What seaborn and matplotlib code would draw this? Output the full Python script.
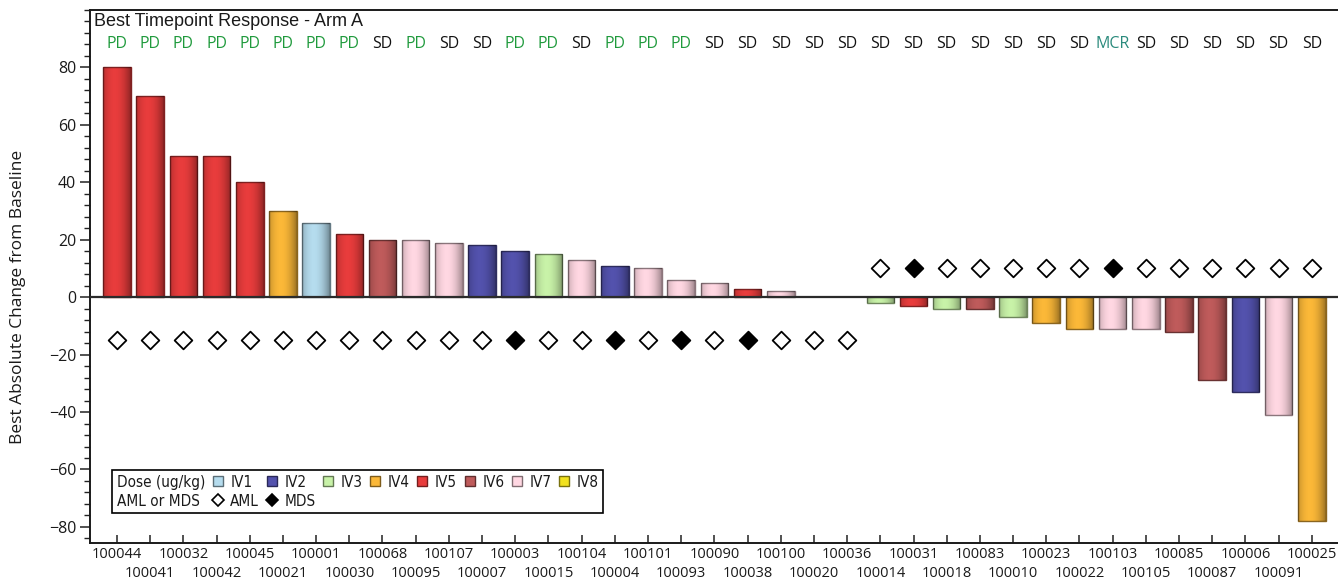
import numpy as np
import pandas as pd
import matplotlib
matplotlib.use('Agg')
import matplotlib.pyplot as plt
import matplotlib.colors as mcolors
from matplotlib import font_manager as fm
from matplotlib.lines import Line2D
from matplotlib.ticker import MultipleLocator
import seaborn as sns

# ---------------- data ----------------
subject_ids = ['100044', '100041', '100032', '100042', '100045', '100021', '100001', '100030',
               '100068', '100095', '100107', '100007', '100003', '100015', '100104', '100004',
               '100101', '100093', '100090', '100038', '100100', '100020', '100036', '100014',
               '100031', '100018', '100083', '100010', '100023', '100022', '100103', '100105',
               '100085', '100087', '100006', '100091', '100025']
best_change = [80, 70, 49, 49, 40, 30, 26, 22, 20, 20, 19, 18, 16, 15, 13, 11, 10, 6, 5, 3, 2, 0, 0,
               -2, -3, -4, -4, -7, -9, -11, -11, -11, -12, -29, -33, -41, -78]
dose_group = ['IV5', 'IV5', 'IV5', 'IV5', 'IV5', 'IV4', 'IV1', 'IV5', 'IV6', 'IV7', 'IV7', 'IV2',
              'IV2', 'IV3', 'IV7', 'IV2', 'IV7', 'IV7', 'IV7', 'IV5', 'IV7', 'IV7', 'IV7',
              'IV3', 'IV5', 'IV3', 'IV6', 'IV3', 'IV4', 'IV4', 'IV7', 'IV7', 'IV6', 'IV6', 'IV2',
              'IV7', 'IV4']
disease = ['AML'] * 12 + ['MDS', 'AML', 'AML', 'MDS', 'AML', 'MDS', 'AML', 'MDS', 'AML', 'AML',
                          'AML', 'AML', 'MDS', 'AML', 'AML', 'AML', 'AML', 'AML', 'MDS', 'AML',
                          'AML', 'AML', 'AML', 'AML', 'AML']
disease_y = [-15] * 23 + [10] * 14
response = ['PD'] * 8 + ['SD', 'PD', 'SD', 'SD', 'PD', 'PD', 'SD', 'PD', 'PD', 'PD'] + \
           ['SD'] * 12 + ['MCR'] + ['SD'] * 6
dose_levels = ['IV1', 'IV2', 'IV3', 'IV4', 'IV5', 'IV6', 'IV7', 'IV8']
dose_colors = {'IV1': '#b5dcee', 'IV2': '#5352ad', 'IV3': '#c8f2a8', 'IV4': '#fbb838',
               'IV5': '#e83c3c', 'IV6': '#bf5b5b', 'IV7': '#ffd7e2', 'IV8': '#f2e21e'}
disease_colors = {'AML': 'white', 'MDS': 'black'}
response_colors = {'PD': '#1f9a3c', 'SD': '#111111', 'MCR': '#2a8a7c'}

df = pd.DataFrame({'subject': subject_ids, 'change': best_change, 'dose': dose_group,
                   'disease': disease, 'disease_y': disease_y})


def darker(c, f=0.6):
    r, g, b = mcolors.to_rgb(c)
    return (r * f, g * f, b * f)


# narrow font for legend, if available
_fonts = fm.fontManager.ttflist
_names = {f.name for f in _fonts}
if 'Liberation Sans Narrow' in _names:
    legend_prop = {'family': ['Liberation Sans Narrow', 'DejaVu Sans'], 'size': 11.5}
elif any(f.name == 'DejaVu Sans' and f.stretch == 'condensed' for f in _fonts):
    legend_prop = {'family': ['DejaVu Sans'], 'stretch': 'condensed', 'size': 11}
else:
    legend_prop = {'family': ['Liberation Sans', 'DejaVu Sans'], 'size': 10}

# ---------------- style ----------------
sns.set_theme(style='white')
plt.rcParams['font.family'] = ['Open Sans', 'DejaVu Sans']
plt.rcParams['text.color'] = '#1a1a1a'

fig = plt.figure(figsize=(13.38, 5.81), dpi=100)
ax = fig.add_axes([90 / 1338, 38 / 581, 1248 / 1338, 533 / 581])

sns.barplot(data=df, x='subject', y='change', hue='dose', palette=dose_colors,
            order=subject_ids, hue_order=dose_levels, dodge=False, width=0.83,
            saturation=1, legend=False, ax=ax)

# edges + cylinder shading
t = np.linspace(0, 1, 64)
shade = np.clip(np.abs(t - 0.42) / 0.58, 0, 1) ** 2 * 0.38
img = np.zeros((1, 64, 4))
img[0, :, 3] = shade
for p in list(ax.patches):
    fc = p.get_facecolor()
    p.set_edgecolor(darker(fc, 0.55))
    p.set_linewidth(1.0)
    h = p.get_height()
    if h == 0 or np.isnan(h):
        p.set_visible(False)
        continue
    x0, y0 = p.get_x(), p.get_y()
    w = p.get_width()
    im = ax.imshow(img, extent=[x0, x0 + w, y0, y0 + h], aspect='auto',
                   interpolation='bilinear', zorder=p.get_zorder() + 0.1)
    im.set_clip_path(p)

# disease markers
sns.stripplot(data=df, x='subject', y='disease_y', hue='disease', palette=disease_colors,
              order=subject_ids, hue_order=['AML', 'MDS'], jitter=False, marker='D', size=9,
              linewidth=1.3, edgecolor='black', legend=False, ax=ax, zorder=5)

ax.axhline(0, color='#2b2b2b', lw=1.6, zorder=4)

# response labels
for i, r in enumerate(response):
    ax.text(i, 88, r, ha='center', va='center', fontsize=11.5, color=response_colors[r])

ax.text(0.003, 0.994, 'Best Timepoint Response - Arm A', transform=ax.transAxes,
        ha='left', va='top', fontsize=13, family=['Liberation Sans', 'DejaVu Sans'])

# axes
ax.set_xlim(-0.813, 36.79)
ax.set_ylim(-85.6, 100)
ax.set_yticks([-80, -60, -40, -20, 0, 20, 40, 60, 80])
ax.yaxis.set_minor_locator(MultipleLocator(4))
ax.tick_params(axis='y', which='major', direction='out', length=7, width=1.1, left=True,
               labelsize=11.5, pad=3, color='#222222', labelcolor='#1a1a1a')
ax.tick_params(axis='y', which='minor', direction='out', length=4, width=1.0, left=True,
               color='#222222')

# staggered x labels: even positions on row 1 (major), odd on row 2 (minor)
pos = np.arange(len(subject_ids))
ax.set_xticks(pos[::2], labels=subject_ids[::2])
ax.set_xticks(pos[1::2], labels=subject_ids[1::2], minor=True)
ax.tick_params(axis='x', which='both', direction='in', length=6, width=1.1, bottom=True,
               labelsize=10.5, color='#222222', labelcolor='#1a1a1a')
ax.tick_params(axis='x', which='major', pad=3)
ax.tick_params(axis='x', which='minor', pad=16.5)
ax.set_xlabel('')
ax.set_ylabel('Best Absolute Change from Baseline', fontsize=12.5, color='#1a1a1a')
ax.yaxis.set_label_coords(-0.0513, 0.4615)

for s in ['left', 'bottom', 'top']:
    ax.spines[s].set_visible(True)
    ax.spines[s].set_color('#1a1a1a')
    ax.spines[s].set_linewidth(1.4)
ax.spines['right'].set_visible(False)
ax.grid(False)


# legend
def blank():
    return Line2D([], [], linestyle='none')


def square(c):
    return Line2D([], [], linestyle='none', marker='s', markersize=6.5, markerfacecolor=c,
                  markeredgecolor=darker(c, 0.5), markeredgewidth=1)


handles = [blank(), blank()]
labels = ['Dose (ug/kg)', 'AML or MDS']
for i, lvl in enumerate(dose_levels):
    handles.append(square(dose_colors[lvl]))
    labels.append(lvl)
    if i < 2:
        d = ['AML', 'MDS'][i]
        handles.append(Line2D([], [], linestyle='none', marker='D', markersize=6.5,
                              markerfacecolor=disease_colors[d], markeredgecolor='black',
                              markeredgewidth=1.2))
        labels.append(d)
    else:
        handles.append(blank())
        labels.append('')

leg = ax.legend(handles, labels, ncol=9, loc='lower left', bbox_to_anchor=(0.0176, 0.056),
                borderaxespad=0, frameon=True, fancybox=False, edgecolor='black',
                handlelength=0.75, handletextpad=0.45, columnspacing=0.45, labelspacing=0.25,
                borderpad=0.3, prop=legend_prop)
leg.get_frame().set_linewidth(1.2)
leg.get_frame().set_alpha(1)
try:
    col0 = leg._legend_handle_box.get_children()[0]
    for row in col0.get_children():
        row.get_children()[0].width = 0
        row.sep = 0
except Exception:
    pass

fig.savefig('out.png', dpi=100)
